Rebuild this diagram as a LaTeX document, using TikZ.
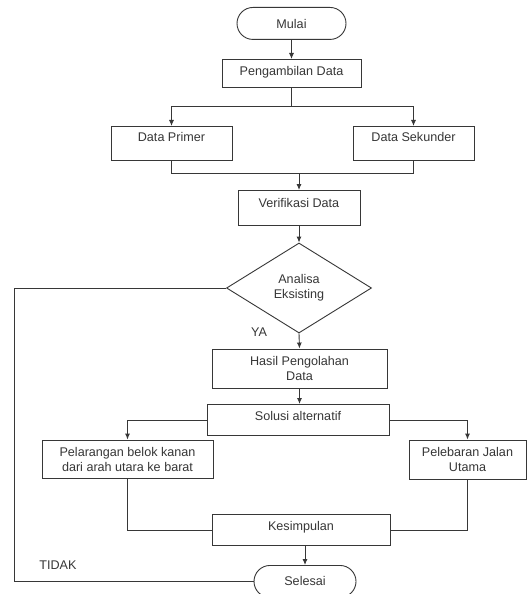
\documentclass[tikz,border=0pt]{standalone}
\usepackage{fontspec}
\setmainfont{Liberation Sans}
\usetikzlibrary{shapes.geometric,arrows.meta}
\definecolor{ink}{RGB}{55,55,55}
\begin{document}
\begin{tikzpicture}[x=1bp,y=-1bp,
  every node/.style={font=\fontsize{12.6bp}{15bp}\selectfont, text=ink},
  box/.style={draw=ink, line width=0.9bp, rectangle, inner sep=0pt, anchor=north, align=center},
  mbox/.style={draw=ink, line width=0.9bp, rectangle, inner sep=0pt, align=center},
  term/.style={draw=ink, line width=0.9bp, rectangle, rounded corners=16bp, inner sep=0pt, anchor=north},
  tb/.style n args={2}{text height=#1bp, text depth=#2bp},
  decision/.style={draw=ink, line width=0.9bp, diamond, aspect=1.61, inner sep=0pt, minimum width=145bp, minimum height=90bp, align=center},
  conn/.style={draw=ink, line width=0.9bp},
  arr/.style={conn, -{Latex[length=6bp,width=5bp]}}
]
\clip (0,0) rectangle (528,594);
\fill[white] (0,0) rectangle (528,594);

\node[term, minimum width=109bp, tb={21.5}{10.5}] (mulai) at (291.5,7) {Mulai};
\node[box, minimum width=139bp, tb={16.5}{11.5}] (ambil) at (291.5,59) {Pengambilan Data};
\node[box, minimum width=121bp, tb={15.5}{18.5}] (primer) at (171.5,126) {Data Primer};
\node[box, minimum width=121bp, tb={15.5}{18.5}] (sekunder) at (413.5,126) {Data Sekunder};
\node[box, minimum width=122bp, tb={17.5}{17.5}] (verif) at (299,190) {Verifikasi Data};
\node[decision] (analisa) at (299,288) {Analisa\\Eksisting};
\node[mbox, minimum width=175bp, minimum height=39bp] (hasil) at (299.5,368.5) {Hasil Pengolahan\\Data};
\node[box, minimum width=182bp, tb={16.5}{14.5}] (solusi) at (298,404) {Solusi alternatif};
\node[mbox, minimum width=171bp, minimum height=38bp] (larang) at (127.5,459) {Pelarangan belok kanan\\dari arah utara ke barat};
\node[mbox, minimum width=117bp, minimum height=39bp] (lebar) at (467.5,459.5) {Pelebaran Jalan\\Utama};
\node[box, minimum width=178bp, tb={16.5}{14.5}] (simpul) at (301,514) {Kesimpulan};
\node[term, minimum width=102bp, tb={20.5}{11.5}] (selesai) at (305,565) {Selesai};

\node (ya) at (259,332) {YA};
\node (tidak) at (58,565) {TIDAK};

\coordinate (split) at (291.5,106);
\coordinate (merge) at (299,173);
\coordinate (back) at (14,288);

\draw[arr] (mulai) -- (ambil);
\draw[conn] (ambil.south) -- (split);
\draw[arr] (split) -| (primer.north);
\draw[arr] (split) -| (sekunder.north);
\draw[conn] (primer.south) |- (merge);
\draw[conn] (sekunder.south) |- (merge);
\draw[arr] (merge) -- (verif.north);
\draw[arr] (verif.south) -- (analisa.north);
\draw[arr] (analisa.south) -- (hasil.north);
\draw[conn] (analisa.west) -- (back) |- (selesai.west);
\draw[arr] (hasil.south) -- (hasil.south |- solusi.north);
\draw[arr] (solusi.west) -| (larang.north);
\draw[arr] (solusi.east) -| (lebar.north);
\draw[conn] (larang.south) |- (simpul.west);
\draw[conn] (lebar.south) |- (simpul.east);
\draw[arr] (simpul.south -| selesai.north) -- (selesai.north);
\end{tikzpicture}
\end{document}
